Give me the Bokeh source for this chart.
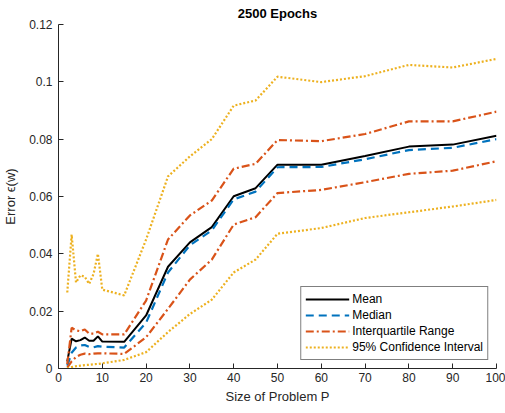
from bokeh.plotting import figure
from bokeh.models import Range1d, Legend, LegendItem, FixedTicker
from bokeh.embed import file_html
from bokeh.resources import INLINE

# ---- data ----
problem_size = [2, 3, 4, 5, 6, 7, 8, 9, 10, 15, 20, 25, 30, 35, 40, 45, 50, 60, 70, 80, 90, 100]

err_mean = [0.0025, 0.0104, 0.0095, 0.0099, 0.0108, 0.0097, 0.0097, 0.0112, 0.0094, 0.0093,
            0.0185, 0.0355, 0.0440, 0.0493, 0.0601, 0.0629, 0.0711, 0.0711, 0.0741, 0.0774,
            0.0781, 0.0812]
err_median = [0.0010, 0.0055, 0.0073, 0.0080, 0.0082, 0.0075, 0.0074, 0.0078, 0.0076, 0.0073,
              0.0160, 0.0335, 0.0430, 0.0482, 0.0590, 0.0617, 0.0702, 0.0703, 0.0730, 0.0762,
              0.0770, 0.0800]
iqr_upper = [0.0015, 0.0142, 0.0133, 0.0130, 0.0136, 0.0122, 0.0122, 0.0128, 0.0119, 0.0119,
             0.0237, 0.0450, 0.0534, 0.0586, 0.0697, 0.0714, 0.0797, 0.0793, 0.0818, 0.0862,
             0.0862, 0.0896]
iqr_lower = [0.0003, 0.0025, 0.0040, 0.0048, 0.0052, 0.0050, 0.0052, 0.0053, 0.0053, 0.0051,
             0.0109, 0.0208, 0.0310, 0.0380, 0.0502, 0.0528, 0.0612, 0.0623, 0.0650, 0.0679,
             0.0690, 0.0723]
ci_upper = [0.0265, 0.0467, 0.0300, 0.0325, 0.0320, 0.0295, 0.0330, 0.0400, 0.0275, 0.0255,
            0.0450, 0.0670, 0.0740, 0.0800, 0.0917, 0.0935, 0.1018, 0.0999, 0.1020, 0.1059,
            0.1050, 0.1080]
ci_lower = [0.0000, 0.0005, 0.0008, 0.0010, 0.0012, 0.0013, 0.0015, 0.0016, 0.0018, 0.0030,
            0.0057, 0.0127, 0.0190, 0.0240, 0.0335, 0.0380, 0.0470, 0.0490, 0.0525, 0.0545,
            0.0565, 0.0588]

x_ticks = [0, 10, 20, 30, 40, 50, 60, 70, 80, 90, 100]
y_ticks = [0, 0.02, 0.04, 0.06, 0.08, 0.1, 0.12]
y_tick_labels = ["0", "0.02", "0.04", "0.06", "0.08", "0.1", "0.12"]

FONT = "Liberation Sans"
AX = "#262626"

p = figure(width=505, height=413, output_backend="svg", toolbar_location=None,
           x_range=Range1d(0, 100), y_range=Range1d(0, 0.12),
           min_border_left=58, min_border_right=9, min_border_top=24, min_border_bottom=45)

p.title.text = "2500 Epochs"
p.title.align = "center"
p.title.text_font = FONT
p.title.text_font_size = "13px"
p.title.text_font_style = "bold"
p.title.text_color = "#000000"
p.title.standoff = 7

p.outline_line_color = None
p.xgrid.visible = False
p.ygrid.visible = False
p.background_fill_color = "white"
p.border_fill_color = "white"

for ax in (p.xaxis[0], p.yaxis[0]):
    ax.axis_line_color = AX
    ax.major_tick_line_color = AX
    ax.minor_tick_line_color = None
    ax.major_tick_in = 5
    ax.major_tick_out = 0
    ax.major_label_text_font = FONT
    ax.major_label_text_font_size = "12px"
    ax.major_label_text_color = AX
    ax.axis_label_text_font = FONT
    ax.axis_label_text_font_size = "13px"
    ax.axis_label_text_font_style = "normal"
    ax.axis_label_text_color = AX

p.xaxis.ticker = FixedTicker(ticks=x_ticks)
p.yaxis.ticker = FixedTicker(ticks=y_ticks)
p.yaxis.major_label_overrides = {t: l for t, l in zip(y_ticks, y_tick_labels)}
p.xaxis.axis_label = "Size of Problem P"
p.yaxis.axis_label = "Error ϵ(w)"
p.xaxis.major_label_standoff = 4
p.yaxis.major_label_standoff = 6
p.xaxis.axis_label_standoff = 4
p.yaxis.axis_label_standoff = 8

BLACK = "#000000"
BLUE = "#0072BD"
ORANGE = "#D95319"
YELLOW = "#EDB120"

r_mean = p.line(problem_size, err_mean, line_color=BLACK, line_width=2)
r_median = p.line(problem_size, err_median, line_color=BLUE, line_width=2.2, line_dash="8 5")
r_iqr_u = p.line(problem_size, iqr_upper, line_color=ORANGE, line_width=2.2, line_dash="8 3 2 3")
r_iqr_l = p.line(problem_size, iqr_lower, line_color=ORANGE, line_width=2.2, line_dash="8 3 2 3")
r_ci_u = p.line(problem_size, ci_upper, line_color=YELLOW, line_width=2.2, line_dash="2 2")
r_ci_l = p.line(problem_size, ci_lower, line_color=YELLOW, line_width=2.2, line_dash="2 2")

legend = Legend(items=[
    LegendItem(label="Mean", renderers=[r_mean]),
    LegendItem(label="Median", renderers=[r_median]),
    LegendItem(label="Interquartile Range", renderers=[r_iqr_u]),
    LegendItem(label="95% Confidence Interval", renderers=[r_ci_u]),
], location="bottom_right")
legend.label_text_font = FONT
legend.label_text_font_size = "12px"
legend.label_text_color = "#000000"
legend.glyph_width = 44
legend.glyph_height = 16
legend.label_height = 16
legend.label_standoff = 3
legend.spacing = 0
legend.padding = 4
legend.margin = 8
legend.border_line_color = "#000000"
legend.border_line_width = 1
legend.background_fill_color = "white"
legend.background_fill_alpha = 1
p.add_layout(legend)

open("out.html", "w").write(file_html(p, INLINE))
